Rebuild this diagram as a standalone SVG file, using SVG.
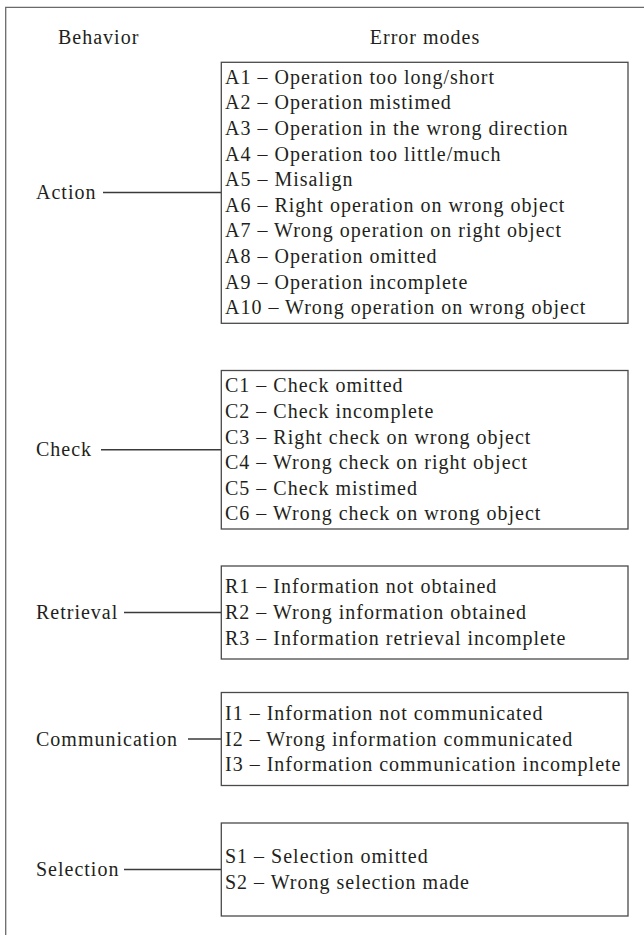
<svg xmlns="http://www.w3.org/2000/svg" width="644" height="935" viewBox="0 0 644 935">
<style>
text{font-family:"Liberation Serif","Times New Roman",serif;font-size:20px;fill:#231f20;letter-spacing:1px}
.box{fill:#fff;stroke:#4a4a4a;stroke-width:1.3}
.frame{fill:none;stroke:#6a6a6a;stroke-width:1.3}
#connectors line{stroke:#3a3a3a;stroke-width:1.3}
</style>
<rect width="644" height="935" fill="#fff"/>
<path class="frame" d="M5.7 935 V7.3 H644"/>
<g id="headers">
<text x="58" y="43.8">Behavior</text>
<text x="425" y="43.8" text-anchor="middle">Error modes</text>
</g>
<g id="connectors">
<line x1="103" y1="192.5" x2="221.3" y2="192.5"/>
<line x1="101" y1="449.75" x2="221.3" y2="449.75"/>
<line x1="124" y1="612.5" x2="221.3" y2="612.5"/>
<line x1="188" y1="739" x2="221.3" y2="739"/>
<line x1="124" y1="869.5" x2="221.3" y2="869.5"/>
</g>
<g id="action">
<text x="36" y="199">Action</text>
<rect class="box" x="221.3" y="62.3" width="406.7" height="261"/>
<text x="225" y="83.8">A1 – Operation too long/short</text>
<text x="225" y="109.4">A2 – Operation mistimed</text>
<text x="225" y="135">A3 – Operation in the wrong direction</text>
<text x="225" y="160.6">A4 – Operation too little/much</text>
<text x="225" y="186.2">A5 – Misalign</text>
<text x="225" y="211.8">A6 – Right operation on wrong object</text>
<text x="225" y="237.4">A7 – Wrong operation on right object</text>
<text x="225" y="263">A8 – Operation omitted</text>
<text x="225" y="288.6">A9 – Operation incomplete</text>
<text x="225" y="314.2">A10 – Wrong operation on wrong object</text>
</g>
<g id="check">
<text x="36" y="456.3">Check</text>
<rect class="box" x="221.3" y="370.5" width="406.7" height="158.5"/>
<text x="225" y="392.3">C1 – Check omitted</text>
<text x="225" y="417.9">C2 – Check incomplete</text>
<text x="225" y="443.5">C3 – Right check on wrong object</text>
<text x="225" y="469.1">C4 – Wrong check on right object</text>
<text x="225" y="494.7">C5 – Check mistimed</text>
<text x="225" y="520.3">C6 – Wrong check on wrong object</text>
</g>
<g id="retrieval">
<text x="36" y="619">Retrieval</text>
<rect class="box" x="221.3" y="566" width="406.7" height="93"/>
<text x="225" y="593.4">R1 – Information not obtained</text>
<text x="225" y="619">R2 – Wrong information obtained</text>
<text x="225" y="644.6">R3 – Information retrieval incomplete</text>
</g>
<g id="communication">
<text x="36" y="745.5">Communication</text>
<rect class="box" x="221.3" y="692.5" width="406.7" height="93"/>
<text x="225" y="719.9">I1 – Information not communicated</text>
<text x="225" y="745.5">I2 – Wrong information communicated</text>
<text x="225" y="771.1">I3 – Information communication incomplete</text>
</g>
<g id="selection">
<text x="36" y="876">Selection</text>
<rect class="box" x="221.3" y="823" width="406.7" height="93"/>
<text x="225" y="863.2">S1 – Selection omitted</text>
<text x="225" y="888.8">S2 – Wrong selection made</text>
</g>
</svg>
